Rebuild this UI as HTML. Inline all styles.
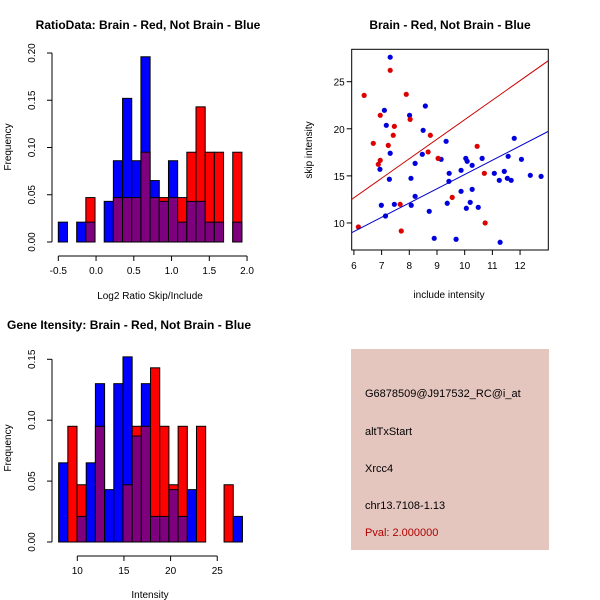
<!DOCTYPE html>
<html><head><meta charset="utf-8"><style>
body{margin:0;background:#fff}
svg{display:block;font-family:"Liberation Sans",sans-serif}
</style></head><body>
<svg id="c" width="600" height="600" xmlns="http://www.w3.org/2000/svg">
<rect width="600" height="600" fill="#fff"/>
<g id="p1"></g>
<g id="p2"></g>
<g id="p3"></g>
<g>
<rect x="351" y="349" width="198" height="201" fill="#E5C6BF"/>
<g font-size="11" fill="#000">
<text x="365" y="397">G6878509@J917532_RC@i_at</text>
<text x="365" y="435">altTxStart</text>
<text x="365" y="472">Xrcc4</text>
<text x="365" y="509">chr13.7108-1.13</text>
<text x="365" y="536" fill="#B00000">Pval: 2.000000</text>
</g></g>
</svg>
<script>
// ---- data: ratio histogram (top-left) ----
const ratioBinStart = -0.5;
const ratioBinWidth = 0.1216;
const ratioRed  = [0,0,0,0.047,0,0,0.047,0.047,0.047,0.095,0.047,0.047,0.047,0.047,0.095,0.143,0.095,0.095,0,0.095];
const ratioBlue = [0.021,0,0.021,0.021,0,0.043,0.086,0.152,0.086,0.196,0.065,0.043,0.086,0.021,0.043,0.043,0.021,0.021,0,0.021];
const ratioXTicks = [-0.5,0.0,0.5,1.0,1.5,2.0];
const ratioXLabels = ["-0.5","0.0","0.5","1.0","1.5","2.0"];
const ratioYTicks = [0,0.05,0.10,0.15,0.20];
const ratioYLabels = ["0.00","0.05","0.10","0.15","0.20"];
// ---- data: intensity histogram (bottom-left) ----
const intBinStart = 8;
const intBinWidth = 0.985;
const intRed  = [0,0.095,0.047,0,0.095,0,0,0.047,0.095,0.095,0.143,0.095,0.047,0.095,0,0.095,0,0,0.047,0];
const intBlue = [0.065,0,0.021,0.065,0.130,0.043,0.130,0.152,0.087,0.130,0.021,0.021,0.043,0.021,0.043,0,0,0,0,0.021];
const intXTicks = [10,15,20,25];
const intXLabels = ["10","15","20","25"];
const intYTicks = [0,0.05,0.10,0.15];
const intYLabels = ["0.00","0.05","0.10","0.15"];
// ---- data: scatter (top-right) ----
const blueX = [7.31,7.10,7.17,8.01,8.58,8.50,7.31,6.94,7.28,6.99,7.14,7.46,8.07,8.21,8.06,8.21,8.47,8.72,8.90,9.33,9.15,9.44,9.43,9.37,9.69,9.87,9.87,10.04,10.09,10.27,10.27,10.06,10.20,10.49,10.63,11.07,11.25,11.43,11.28,11.57,11.54,11.68,11.79,12.05,12.37,12.76];
const blueY = [27.6,21.96,20.37,21.43,22.42,19.84,17.40,15.70,14.64,11.88,10.74,11.98,11.88,12.83,14.74,16.33,17.29,11.24,8.37,18.67,16.76,15.27,14.42,12.09,8.27,15.59,13.36,16.86,16.55,16.12,13.57,11.56,12.19,11.66,16.86,15.27,14.53,15.48,7.95,17.08,14.74,14.53,18.99,16.76,15.06,14.95];
const redX = [7.31,6.37,7.89,6.95,8.03,7.46,7.42,6.70,7.24,8.76,8.68,6.95,6.88,9.04,10.45,10.71,9.55,7.67,7.71,10.74,6.16];
const redY = [26.21,23.55,23.66,21.43,21.0,20.26,19.31,18.46,18.24,19.31,17.54,16.65,16.23,16.86,18.14,15.27,12.72,11.98,9.15,10.0,9.58];
const redFit = [0.237,2.073];   // intercept, slope
const blueFit = [0.0,1.515];
const scXTicks = [6,7,8,9,10,11,12];
const scXLabels = ["6","7","8","9","10","11","12"];
const scYTicks = [10,15,20,25];
const scYLabels = ["10","15","20","25"];

const NS="http://www.w3.org/2000/svg";
function mk(parent,tag,attrs,text){const e=document.createElementNS(NS,tag);for(const k in attrs)e.setAttribute(k,attrs[k]);if(text!==undefined)e.textContent=text;parent.appendChild(e);return e;}

function hist(g,o){
  const sx=v=>o.x0+(v-o.d0)*o.kx, sy=v=>o.y0-v*o.ky;
  for(let i=0;i<o.red.length;i++){
    const a=o.bs+i*o.bw, b=a+o.bw, r=o.red[i], bl=o.blue[i];
    const mx=Math.max(r,bl), mn=Math.min(r,bl);
    if(mx<=0) continue;
    const c=r>=bl?"#FF0000":"#0000FF";
    let e=mk(g,"rect",{x:sx(a),y:sy(mx),width:sx(b)-sx(a),height:sy(0)-sy(mx),fill:c,stroke:"#000","stroke-width":1});
    
    
    if(mn>0){
      e=mk(g,"rect",{x:sx(a),y:sy(mn),width:sx(b)-sx(a),height:sy(0)-sy(mn),fill:"#7F007F",stroke:"#000","stroke-width":1});
      
      
    }
  }
  const yt=o.yt;
  let ax=mk(g,"line",{x1:o.ax,x2:o.ax,y1:sy(yt[0]),y2:sy(yt[yt.length-1]),stroke:"#000"});
  
  
  yt.forEach((v,i)=>{mk(g,"line",{x1:o.ax-5,x2:o.ax,y1:sy(v),y2:sy(v),stroke:"#000"});
    const t=mk(g,"text",{x:0,y:0,"font-size":10,"text-anchor":"middle",transform:`translate(${o.ax-17},${sy(v)}) rotate(-90)`},o.yl[i]);
    
    });
  const xt=o.xt, ay=o.y0+14;
  ax=mk(g,"line",{x1:sx(xt[0]),x2:sx(xt[xt.length-1]),y1:ay,y2:ay,stroke:"#000"});
  
  
  xt.forEach((v,i)=>{mk(g,"line",{x1:sx(v),x2:sx(v),y1:ay,y2:ay+5,stroke:"#000"});
    const t=mk(g,"text",{x:sx(v),y:ay+18,"font-size":10,"text-anchor":"middle"},o.xl[i]);
    
    });
}

const p1=document.getElementById('p1');
hist(p1,{x0:58.3,d0:-0.5,kx:75.5,y0:242,ky:945,bs:ratioBinStart,bw:ratioBinWidth,red:ratioRed,blue:ratioBlue,xt:ratioXTicks,xl:ratioXLabels,yt:ratioYTicks,yl:ratioYLabels,ax:52});
let t;
t=mk(p1,"text",{x:148,y:29,"font-size":12,"font-weight":"bold","text-anchor":"middle"},"RatioData: Brain - Red, Not Brain - Blue");

t=mk(p1,"text",{x:150,y:299,"font-size":10,"text-anchor":"middle"},"Log2 Ratio Skip/Include");

t=mk(p1,"text",{x:0,y:0,"font-size":10,"text-anchor":"middle",transform:"translate(11,147) rotate(-90)"},"Frequency");


const p3=document.getElementById('p3');
hist(p3,{x0:77.3,d0:10,kx:9.33,y0:542,ky:1218,bs:intBinStart,bw:intBinWidth,red:intRed,blue:intBlue,xt:intXTicks,xl:intXLabels,yt:intYTicks,yl:intYLabels,ax:52});
t=mk(p3,"text",{x:7,y:329,"font-size":12,"font-weight":"bold"},"Gene Itensity: Brain - Red, Not Brain - Blue");

t=mk(p3,"text",{x:150,y:598,"font-size":10,"text-anchor":"middle"},"Intensity");

t=mk(p3,"text",{x:0,y:0,"font-size":10,"text-anchor":"middle",transform:"translate(11,448) rotate(-90)"},"Frequency");


const p2=document.getElementById('p2');
const X0=5.92,X1=13.02,Y0=7.13,Y1=28.44,L=351.7,R=548.3,T=49.3,B=250;
const sx=v=>L+(v-X0)/(X1-X0)*(R-L), sy=v=>B-(v-Y0)/(Y1-Y0)*(B-T);
const clip=mk(p2,"clipPath",{id:"sc"});mk(clip,"rect",{x:L,y:T,width:R-L,height:B-T});
let e=mk(p2,"rect",{x:L,y:T,width:R-L,height:B-T,fill:"none",stroke:"#000"});

blueX.forEach((v,i)=>{const c=mk(p2,"circle",{cx:sx(v),cy:sy(blueY[i]),r:2.6,fill:"#0000DD"});
  
  });
redX.forEach((v,i)=>{const c=mk(p2,"circle",{cx:sx(v),cy:sy(redY[i]),r:2.6,fill:"#DD0000"});
  
  });
[[redFit,"#CC0000","fit-line-red"],[blueFit,"#0000CC","fit-line-blue"]].forEach(([f,c,n])=>{
  const l=mk(p2,"line",{x1:sx(X0),y1:sy(f[0]+f[1]*X0),x2:sx(X1),y2:sy(f[0]+f[1]*X1),stroke:c,"stroke-width":1,"clip-path":"url(#sc)"});
  
  });
scXTicks.forEach((v,i)=>{mk(p2,"line",{x1:sx(v),x2:sx(v),y1:B,y2:B+5,stroke:"#000"});
  const tt=mk(p2,"text",{x:sx(v),y:B+19,"font-size":10,"text-anchor":"middle"},scXLabels[i]);
  
  });
scYTicks.forEach((v,i)=>{mk(p2,"line",{x1:L-5,x2:L,y1:sy(v),y2:sy(v),stroke:"#000"});
  const tt=mk(p2,"text",{x:L-7,y:sy(v)+4,"font-size":10,"text-anchor":"end"},scYLabels[i]);
  
  });
t=mk(p2,"text",{x:450,y:29,"font-size":12,"font-weight":"bold","text-anchor":"middle"},"Brain - Red, Not Brain - Blue");

t=mk(p2,"text",{x:449,y:298,"font-size":10,"text-anchor":"middle"},"include intensity");

t=mk(p2,"text",{x:0,y:0,"font-size":10,"text-anchor":"middle",transform:"translate(312,150) rotate(-90)"},"skip intensity");

</script>
</body></html>
